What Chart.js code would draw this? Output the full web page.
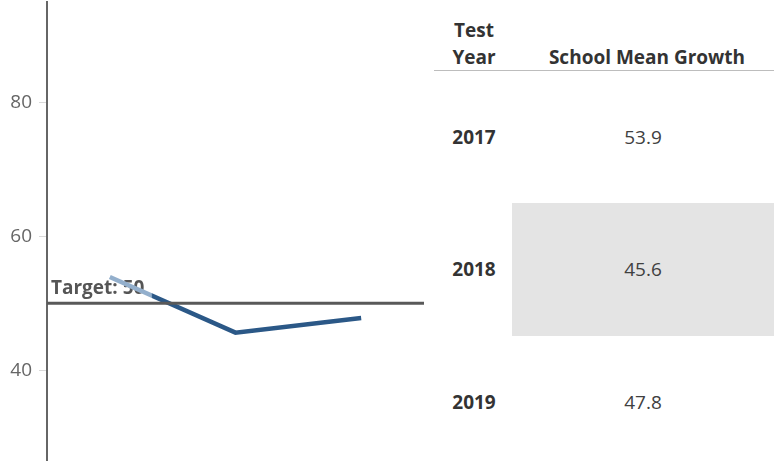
<!DOCTYPE html>
<html>
<head>
<meta charset="utf-8">
<script src="https://cdn.jsdelivr.net/npm/chart.js@4"></script>
<style>
    body { margin: 0; width: 774px; height: 461px; background: #fff; position: relative; overflow: hidden; font-family: "Open Sans", sans-serif; color: #404040; }
    #chartBox { position: absolute; left: 0; top: -16px; width: 424px; height: 497px; }
    .cell { position: absolute; display: flex; align-items: center; justify-content: center; font-size: 19px; }
    .bold { font-weight: bold; color: #333; }
    .head { font-size: 19px; }
</style>
</head>
<body>
<div id="chartBox"><canvas id="growthChart"></canvas></div>
<div id="table"></div>

<script>
    const years = ["2017", "2018", "2019"];
    const meanGrowth = [53.9, 45.6, 47.8];
    const yTicks = [40, 60, 80];
    const target = 50;
    const highlightRow = 1;

    // the first stretch of the line is drawn lighter
    function lineColor(context) {
        const chart = context.chart;
        const x = chart.scales.x;
        if (!x || !chart.chartArea) return "#2b5887";
        const x0 = x.getPixelForValue(0);
        const x1 = x.getPixelForValue(1);
        const g = chart.ctx.createLinearGradient(x0, 0, x1, 0);
        g.addColorStop(0, "#93afcc");
        g.addColorStop(0.33, "#93afcc");
        g.addColorStop(0.34, "#2b5887");
        g.addColorStop(1, "#2b5887");
        return g;
    }

    const targetLine = {
        id: "targetLine",
        beforeDatasetsDraw(chart) {
            const ctx = chart.ctx;
            const area = chart.chartArea;
            const y = chart.scales.y.getPixelForValue(target);
            ctx.save();
            ctx.fillStyle = "#555";
            ctx.font = "bold 19px 'Open Sans', sans-serif";
            ctx.textBaseline = "alphabetic";
            ctx.fillText("Target: " + target, area.left + 4, y - 9);
            ctx.restore();
        },
        afterDatasetsDraw(chart) {
            const ctx = chart.ctx;
            const area = chart.chartArea;
            const y = chart.scales.y.getPixelForValue(target);
            ctx.save();
            ctx.strokeStyle = "#595959";
            ctx.lineWidth = 3;
            ctx.beginPath();
            ctx.moveTo(area.left, y);
            ctx.lineTo(area.right, y);
            ctx.stroke();
            ctx.restore();
        }
    };

    const ctx = document.getElementById("growthChart").getContext("2d");

    new Chart(ctx, {
        type: "line",
        data: {
            labels: years,
            datasets: [{
                data: meanGrowth,
                borderColor: lineColor,
                borderWidth: 4.5,
                pointRadius: 0,
                tension: 0,
                fill: false
            }]
        },
        options: {
            responsive: true,
            maintainAspectRatio: false,
            animation: false,
            layout: { padding: { top: 2, right: 0, bottom: 0, left: 0 } },
            plugins: { legend: { display: false }, tooltip: { enabled: false } },
            scales: {
                x: { display: false, offset: true },
                y: {
                    min: 26.2,
                    max: 94.9,
                    afterFit: (scale) => { scale.width = 47; },
                    afterBuildTicks: (scale) => { scale.ticks = yTicks.map(v => ({ value: v })); },
                    grid: { drawOnChartArea: false, drawTicks: true, tickLength: 8, color: "#d9d9d9" },
                    border: { display: true, color: "#666", width: 2 },
                    ticks: {
                        padding: 7,
                        color: "#666",
                        font: { family: "'Open Sans', sans-serif", size: 19 }
                    }
                }
            }
        },
        plugins: [targetLine]
    });

    // table next to the chart
    const table = document.getElementById("table");
    const rowCenters = [137, 269, 402];
    const rowHeight = 133;

    function addCell(text, left, width, top, height, extra) {
        const d = document.createElement("div");
        d.className = "cell " + (extra || "");
        d.style.left = left + "px";
        d.style.width = width + "px";
        d.style.top = top + "px";
        d.style.height = height + "px";
        d.textContent = text;
        table.appendChild(d);
        return d;
    }

    addCell("Test", 434, 80, 17, 26, "bold head");
    addCell("Year", 434, 80, 44, 26, "bold head");
    addCell("School Mean Growth", 512, 270, 44, 26, "bold head");
    const rule = document.createElement("div");
    rule.style.cssText = "position:absolute;left:434px;top:70px;width:340px;height:1px;background:#bdbdbd;";
    table.appendChild(rule);

    years.forEach((yr, i) => {
        const top = rowCenters[i] - rowHeight / 2;
        addCell(yr, 434, 80, top, rowHeight, "bold");
        const v = addCell(meanGrowth[i].toFixed(1), 512, 262, top, rowHeight);
        if (i === highlightRow) v.style.background = "#e4e4e4";
    });
</script>
</body>
</html>
